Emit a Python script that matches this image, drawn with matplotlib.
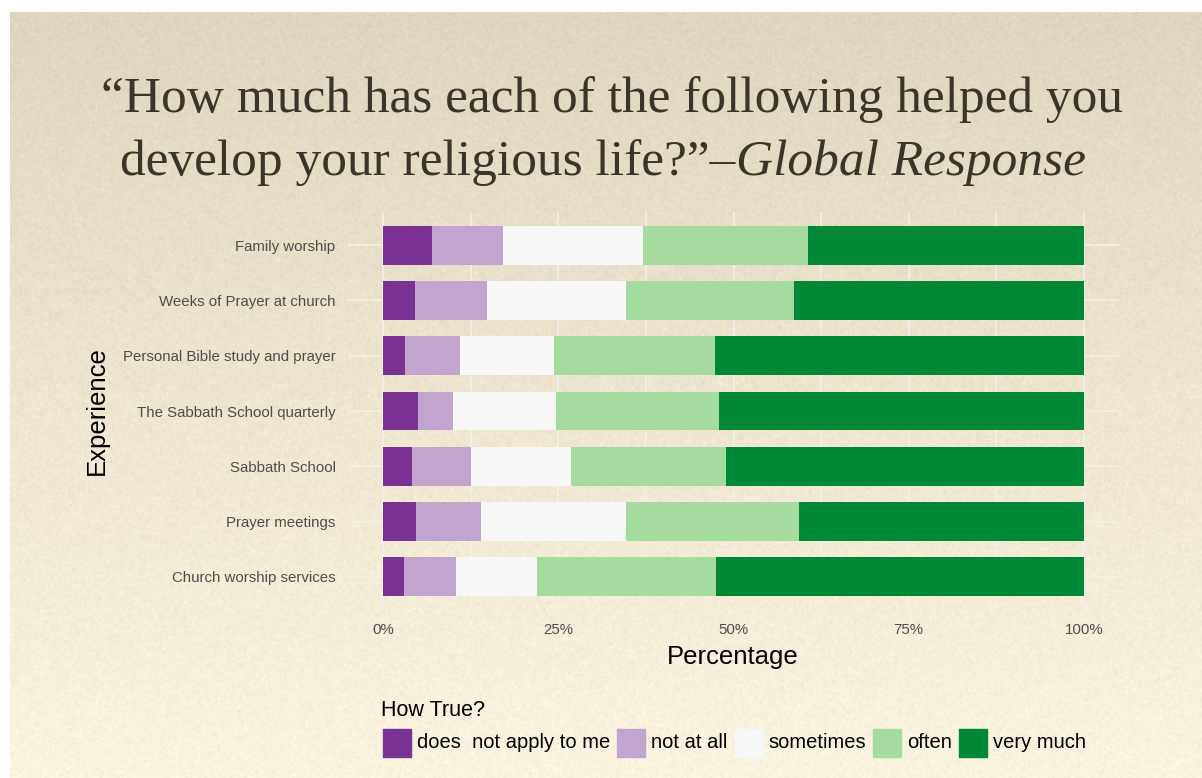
import numpy as np
import matplotlib.pyplot as plt
from matplotlib.patches import Rectangle

# 数据：每项经历的回答比例（%）
experiences = ['Family worship', 'Weeks of Prayer at church', 'Personal Bible study and prayer',
               'The Sabbath School quarterly', 'Sabbath School', 'Prayer meetings',
               'Church worship services']
levels = ['does  not apply to me', 'not at all', 'sometimes', 'often', 'very much']
does_not_apply = [7.0, 4.6, 3.1, 5.0, 4.1, 4.7, 3.0]
not_at_all = [10.1, 10.2, 7.9, 5.0, 8.5, 9.3, 7.4]
sometimes = [20.0, 19.9, 13.4, 14.7, 14.2, 20.7, 11.6]
often = [23.5, 23.9, 23.0, 23.2, 22.1, 24.6, 25.5]
very_much = [39.4, 41.4, 52.6, 52.1, 51.1, 40.7, 52.5]
x_ticks = [0, 25, 50, 75, 100]
x_ticklabels = ['0%', '25%', '50%', '75%', '100%']

colors = ['#7b3294', '#c2a5cf', '#f7f7f7', '#a6dba0', '#008837']
sans = ['Liberation Sans', 'DejaVu Sans']
serif = ['Liberation Serif', 'DejaVu Serif']

W, H = 1202, 778
fig = plt.figure(figsize=(W / 100, H / 100), dpi=100)
fig.patch.set_facecolor('white')

# 纸张背景：上深下浅的米色渐变，加一点颗粒
bg = fig.add_axes([10 / W, 0, 1 - 10 / W, 1 - 12 / H], zorder=-10)
rows, cols = 383, 596
t = np.linspace(0, 1, rows)[:, None]
top = np.array([0.872, 0.835, 0.752])
mid = np.array([0.935, 0.900, 0.815])
bot = np.array([0.978, 0.957, 0.880])
grad = np.where(t[..., None] < 0.5,
                top + (mid - top) * (t[..., None] / 0.5),
                mid + (bot - mid) * ((t[..., None] - 0.5) / 0.5))
grad = np.broadcast_to(grad, (rows, cols, 3)).copy()
rng = np.random.default_rng(3)
grain = rng.normal(0, 0.012, (rows, cols, 1))
img = np.clip(grad + grain, 0, 1)
bg.imshow(img, aspect='auto', interpolation='bilinear', extent=[0, 1, 0, 1])
bg.axis('off')

ax = fig.add_axes([348 / W, 1 - 610 / H, 771 / W, 398 / H])
ax.set_facecolor('none')

y = np.arange(len(experiences))
series = [does_not_apply, not_at_all, sometimes, often, very_much]
left = np.zeros(len(experiences))
for vals, c, lab in zip(series, colors, levels):
    vals = np.array(vals)
    ax.barh(y, vals, left=left, height=0.7, color=c, label=lab, zorder=3)
    left += vals

ax.set_xlim(-5, 105)
ax.set_ylim(len(experiences) - 0.4, -0.6)
ax.set_xticks(x_ticks)
ax.set_xticks([12.5, 37.5, 62.5, 87.5], minor=True)
ax.set_xticklabels(x_ticklabels, fontsize=10.8, color='#4d4d4d', family=sans)
ax.set_yticks(y)
ax.set_yticklabels(experiences, fontsize=10.8, color='#4d4d4d', family=sans)
ax.tick_params(axis='both', which='both', length=0)
ax.tick_params(axis='x', pad=9)
ax.tick_params(axis='y', pad=9)
ax.grid(True, which='both', axis='x', color='#f4f1ec', linewidth=1.1, zorder=0)
ax.grid(True, which='major', axis='y', color='#f4f1ec', linewidth=1.1, zorder=0)
for s in ax.spines.values():
    s.set_visible(False)
ax.set_xlabel('Percentage', fontsize=18.5, family=sans, color='black')
ax.set_ylabel('Experience', fontsize=18.5, family=sans, color='black')
ax.xaxis.set_label_coords((733 - 348) / 771, (610 - 645) / 398)
ax.yaxis.set_label_coords((109 - 348) / 771, 0.5)

# 标题（第二行末尾为斜体）
title_color = '#3b342a'
fig.text(612 / W, 1 - 112 / H, '\u201cHow much has each of the following helped you',
         ha='center', va='baseline', fontsize=37, family=serif, color=title_color)
p1 = fig.text(0, 1 - 175 / H, 'develop your religious life?\u201d\u2013',
              ha='left', va='baseline', fontsize=37, family=serif, color=title_color)
p2 = fig.text(0, 1 - 175 / H, 'Global Response', ha='left', va='baseline',
              fontsize=37, family=serif, style='italic', color=title_color)
fig.canvas.draw()
r = fig.canvas.get_renderer()
w1 = p1.get_window_extent(r).width
w2 = p2.get_window_extent(r).width
x0 = 603 - (w1 + w2) / 2
p1.set_x(x0 / W)
p2.set_x((x0 + w1) / W)

# 图例
fig.text(381 / W, 1 - 711 / H, 'How True?', ha='left', va='center', fontsize=15.5,
         family=sans, color='black')
kx = 383
for c, lab in zip(colors, levels):
    fig.patches.append(Rectangle((kx / W, 1 - 757 / H), 28 / W, 28 / H, color=c,
                                 transform=fig.transFigure, figure=fig))
    tx = fig.text((kx + 34) / W, 1 - 743 / H, lab, ha='left', va='center', fontsize=14.5,
                  family=sans, color='black')
    fig.canvas.draw()
    kx = kx + 34 + tx.get_window_extent(r).width + 7

fig.savefig('out.png', dpi=100)
